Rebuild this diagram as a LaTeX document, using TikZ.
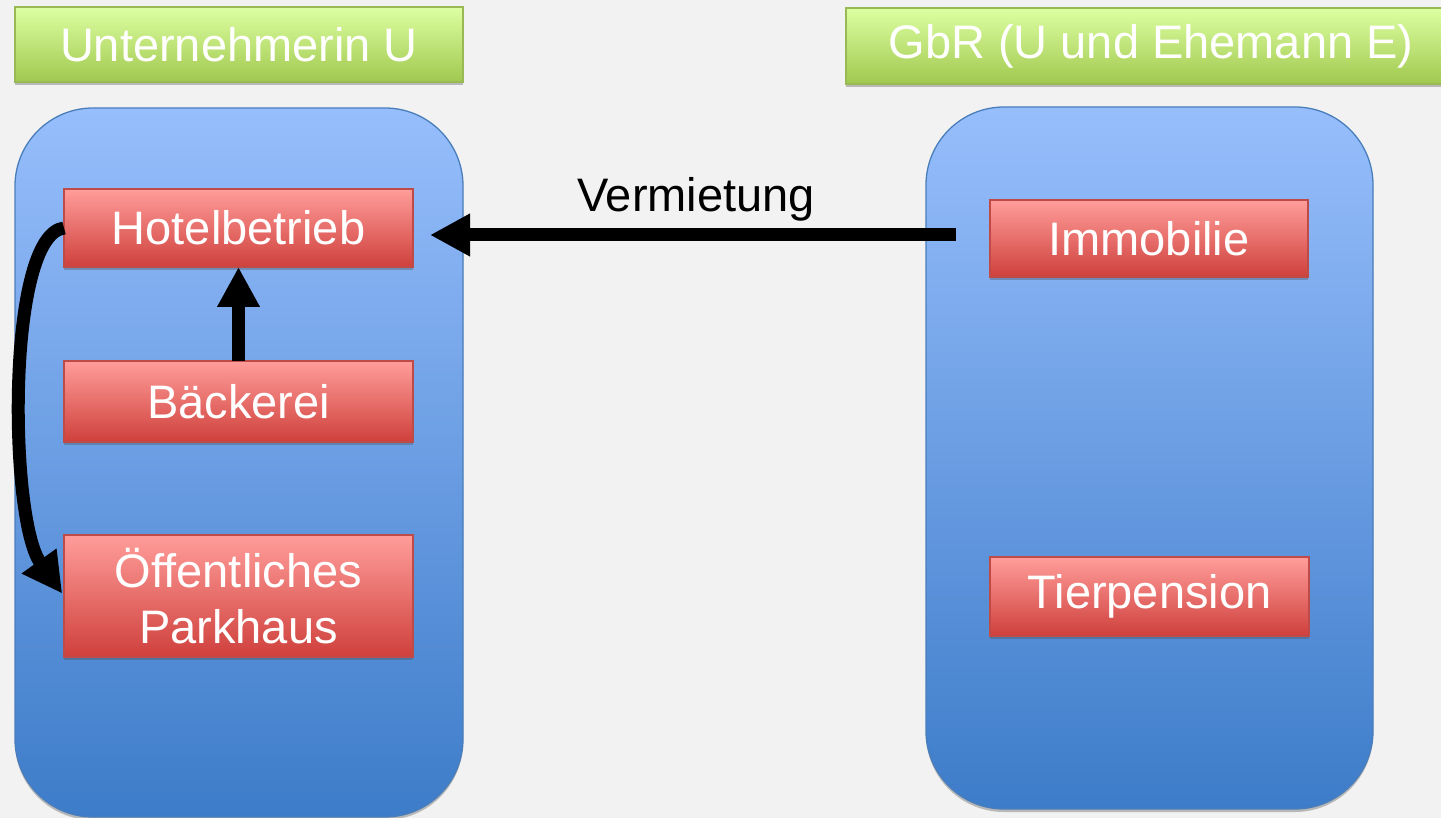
\documentclass[tikz,border=0pt]{standalone}
\usepackage{fontspec}
\setmainfont{Liberation Sans}
\usetikzlibrary{arrows.meta,shadows}
\definecolor{bgc}{HTML}{F2F2F2}
\definecolor{bluetop}{HTML}{97BEFC}
\definecolor{bluebot}{HTML}{3D7CC9}
\definecolor{blueline}{HTML}{4A7EBB}
\definecolor{redtop}{HTML}{FF9D9A}
\definecolor{redbot}{HTML}{CF403C}
\definecolor{redline}{HTML}{BE4B48}
\definecolor{greentop}{HTML}{DDFFA2}
\definecolor{greenbot}{HTML}{A1C84F}
\definecolor{greenline}{HTML}{98B954}
\tikzset{
  txt/.style={font=\fontsize{47}{57}\selectfont},
  shad/.style={drop shadow={shadow xshift=0pt,shadow yshift=-3pt,opacity=0.35,fill=black!70}},
  titlebox/.style={shad,draw=greenline,line width=1.2pt,top color=greentop,bottom color=greenbot,
     text=white,txt,inner sep=0pt,outer sep=0pt,minimum height=75pt},
  groupbox/.style={shad,draw=blueline,line width=1.3pt,top color=bluetop,bottom color=bluebot,
     rounded corners=78pt,inner sep=0pt,outer sep=0pt},
  redbox/.style={shad,draw=redline,line width=1.2pt,top color=redtop,bottom color=redbot,
     text=white,txt,align=center,inner sep=0pt,outer sep=0pt},
  bigarrow/.style={line width=13pt,-{Triangle[length=40pt,width=40pt]}},
}
\begin{document}
\begin{tikzpicture}[x=1pt,y=-1pt]
\useasboundingbox (0,0) rectangle (1441,818);
\fill[bgc] (0,0) rectangle (1441,818);
\clip (0,0) rectangle (1441,818);
% titles
\node[titlebox,minimum width=448pt] (t1) at (239,44.5) {Unternehmerin U};
\node[titlebox,minimum width=610pt,minimum height=76pt] (t2) at (1151,46) {GbR (U und Ehemann E)};
% group boxes
\node[groupbox,minimum width=448pt,minimum height=709pt] (g1) at (239,462.5) {};
\node[groupbox,minimum width=447pt,minimum height=702pt] (g2) at (1149.5,458) {};
% red boxes
\node[redbox,minimum width=349pt,minimum height=78pt] (hotel) at (238.5,228) {Hotelbetrieb};
\node[redbox,minimum width=349pt,minimum height=81pt] (baeck) at (238.5,401.5) {Bäckerei};
\node[redbox,minimum width=349pt,minimum height=122pt] (park) at (238.5,596) {Öffentliches\\[-1pt]Parkhaus};
\node[redbox,minimum width=318pt,minimum height=77pt] (immo) at (1149,238.5) {Immobilie};
\node[redbox,minimum width=319pt,minimum height=79pt] (tier) at (1149.5,596.5) {Tierpension};
% label
\node[txt,anchor=base,inner sep=0pt] (verm) at (696,212) {Vermietung};
% connectors
\draw[bigarrow,shorten <=34pt,shorten >=17pt] ([yshift=3.5pt]immo.west) -- ([yshift=-7pt]hotel.east);
\draw[bigarrow] (baeck.north) -- (hotel.south);
\draw[bigarrow,shorten >=3pt] (hotel.west) .. controls +(-58,7) and +(-55,-77) .. (park.west);
\end{tikzpicture}
\end{document}
